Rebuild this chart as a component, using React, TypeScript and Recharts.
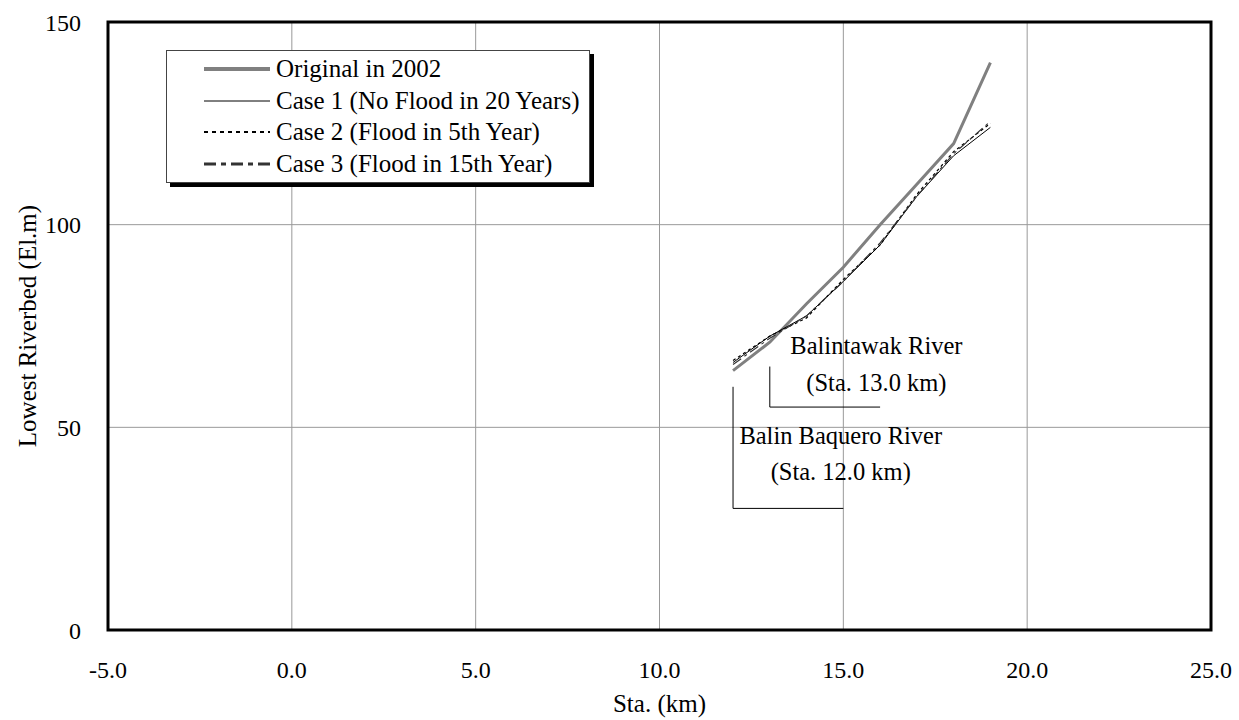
import {
  LineChart,
  Line,
  XAxis,
  YAxis,
  CartesianGrid,
  Legend,
  ReferenceArea,
  ReferenceLine,
  ReferenceDot,
} from 'recharts';

// Lowest riverbed profile, Sta. in km
const sta = [12, 13, 14, 15, 16, 17, 18, 19];
const original = [64, 71, 80.5, 89.5, 100, 110, 120, 140];
const case1 = [66, 72.5, 77.5, 86, 95, 107, 117, 124];
const case2 = [66.5, 72.5, 77, 86.5, 95, 107.5, 118, 125];
const case3 = [65.5, 72, 77.5, 86, 95.5, 107, 117.5, 125.5];

const xTicks = [-5, 0, 5, 10, 15, 20, 25];
const yTicks = [0, 50, 100, 150];

const seriesNames = [
  'Original in 2002',
  'Case 1 (No Flood in 20 Years)',
  'Case 2 (Flood in 5th Year)',
  'Case 3 (Flood in 15th Year)',
];

// tributary confluence markers (data coords)
const balintawakBracket = [
  { x: 13, y: 65 },
  { x: 13, y: 55 },
  { x: 16, y: 55 },
];
const baqueroBracket = [
  { x: 12, y: 60 },
  { x: 12, y: 30 },
  { x: 15, y: 30 },
];
const notes = [
  { x: 15.9, y: 69.6, text: 'Balintawak River' },
  { x: 15.9, y: 60.4, text: '(Sta. 13.0 km)' },
  { x: 14.93, y: 47.2, text: 'Balin Baquero River' },
  { x: 14.93, y: 38.4, text: '(Sta. 12.0 km)' },
];

const data = sta.map((s, i) => ({
  sta: s,
  original: original[i],
  case1: case1[i],
  case2: case2[i],
  case3: case3[i],
}));

const FONT = '"Liberation Serif", "Times New Roman", serif';

const lineStyles = [
  { key: 'original', stroke: '#808080', width: 3, dash: undefined as string | undefined, legendWidth: 4 },
  { key: 'case1', stroke: '#000', width: 1, dash: undefined, legendWidth: 1 },
  { key: 'case2', stroke: '#000', width: 1.2, dash: '3 3', legendWidth: 2 },
  { key: 'case3', stroke: '#333', width: 1.2, dash: '10 4 3 4', legendWidth: 3 },
];

const LegendBox = () => (
  <div
    style={{
      width: 424,
      height: 133,
      border: '1.5px solid #444',
      boxShadow: '4px 4px 0 #000',
      background: '#fff',
      fontFamily: FONT,
      fontSize: 25,
      color: '#000',
      boxSizing: 'border-box',
      paddingTop: 2,
    }}
  >
    {seriesNames.map((name, i) => (
      <div key={name} style={{ display: 'flex', alignItems: 'center', height: 31.8 }}>
        <svg width={66} height={10} style={{ marginLeft: 37, marginRight: 6 }}>
          <line
            x1={0}
            y1={5}
            x2={66}
            y2={5}
            stroke={lineStyles[i].stroke}
            strokeWidth={lineStyles[i].legendWidth}
            strokeDasharray={i === 2 ? '4 4' : i === 3 ? '12 5 5 5' : undefined}
          />
        </svg>
        <span style={{ whiteSpace: 'nowrap' }}>{name}</span>
      </div>
    ))}
  </div>
);

const App = () => {
  return (
    <div style={{ position: 'absolute', left: 0, top: 0 }}>
      <LineChart
        width={1239}
        height={720}
        data={data}
        margin={{ top: 22, right: 28, left: 0, bottom: 0 }}
        style={{ fontFamily: FONT }}
      >
        <CartesianGrid stroke="#999" strokeWidth={1} />
        <XAxis
          dataKey="sta"
          type="number"
          domain={[-5, 25]}
          ticks={xTicks}
          tickFormatter={(v: number) => v.toFixed(1)}
          axisLine={false}
          tickLine={false}
          tickSize={0}
          tickMargin={31}
          height={90}
          tick={{ fill: '#000', fontSize: 24 }}
          label={({ viewBox }: any) => (
            <text
              x={viewBox.x + viewBox.width / 2}
              y={viewBox.y + 76}
              textAnchor="middle"
              dominantBaseline="middle"
              fontSize={25}
              fill="#000"
            >
              Sta. (km)
            </text>
          )}
        />
        <YAxis
          type="number"
          domain={[0, 150]}
          ticks={yTicks}
          axisLine={false}
          tickLine={false}
          tickSize={0}
          tickMargin={27}
          width={108}
          tick={{ fill: '#000', fontSize: 24 }}
          label={({ viewBox }: any) => {
            const cx = 30;
            const cy = viewBox.y + viewBox.height / 2;
            return (
              <text
                x={cx}
                y={cy}
                transform={`rotate(-90 ${cx} ${cy})`}
                textAnchor="middle"
                dominantBaseline="middle"
                fontSize={25}
                fill="#000"
              >
                Lowest Riverbed (El.m)
              </text>
            );
          }}
        />
        <ReferenceLine
          segment={[balintawakBracket[0], balintawakBracket[1]]}
          stroke="#000"
          strokeWidth={1}
        />
        <ReferenceLine
          segment={[balintawakBracket[1], balintawakBracket[2]]}
          stroke="#000"
          strokeWidth={1}
        />
        <ReferenceLine segment={[baqueroBracket[0], baqueroBracket[1]]} stroke="#000" strokeWidth={1} />
        <ReferenceLine segment={[baqueroBracket[1], baqueroBracket[2]]} stroke="#000" strokeWidth={1} />
        {notes.map((n) => (
          <ReferenceDot
            key={n.text}
            x={n.x}
            y={n.y}
            r={0}
            shape={(p: any) => (
              <text
                x={p.cx}
                y={p.cy}
                textAnchor="middle"
                dominantBaseline="middle"
                fontSize={24.5}
                fill="#000"
                fontFamily={FONT}
              >
                {n.text}
              </text>
            )}
          />
        ))}
        {lineStyles.map((s, i) => (
          <Line
            key={s.key}
            name={seriesNames[i]}
            dataKey={s.key}
            type="linear"
            stroke={s.stroke}
            strokeWidth={s.width}
            strokeDasharray={s.dash}
            dot={false}
            activeDot={false}
            isAnimationActive={false}
          />
        ))}
        <ReferenceArea
          x1={-5}
          x2={25}
          y1={0}
          y2={150}
          fill="none"
          fillOpacity={0}
          stroke="#000"
          strokeWidth={3}
          ifOverflow="visible"
        />
        <Legend
          layout="horizontal"
          verticalAlign="middle"
          align="center"
          content={() => <LegendBox />}
          wrapperStyle={{ position: 'absolute', left: 166, top: 50, width: 'auto', height: 'auto' }}
        />
      </LineChart>
    </div>
  );
};

export default App;
